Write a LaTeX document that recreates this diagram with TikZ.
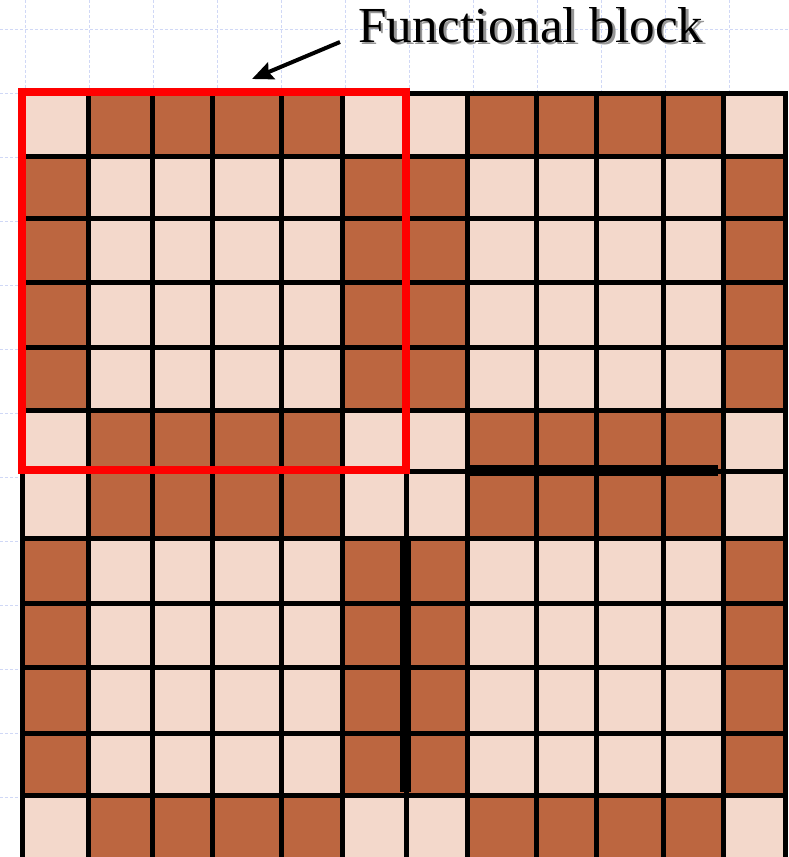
\documentclass[tikz,border=0pt]{standalone}
\usepackage{fontspec}
\setmainfont{Liberation Serif}
\usetikzlibrary{arrows.meta}
\definecolor{darkc}{RGB}{188,102,64}
\definecolor{lightc}{RGB}{243,216,203}
\definecolor{bggrid}{RGB}{208,216,246}
\definecolor{shadowc}{RGB}{150,150,150}
\tikzset{
  bgline/.style={draw=bggrid, line width=1pt, dash pattern=on 3pt off 2pt},
  cellline/.style={draw=black, line width=5pt},
  thickbar/.style={draw=black, line width=11pt},
  redframe/.style={draw=red, line width=8pt},
  titletext/.style={inner sep=0pt, anchor=base west, font=\rmfamily},
  pointer/.style={draw=black, line width=4pt, -{Stealth[length=21pt,width=18pt,inset=3pt]}}
}
\newcommand{\titlebox}{\resizebox{345pt}{35pt}{Functional block}}
\begin{document}
\begin{tikzpicture}[x=1pt,y=-1pt]
\useasboundingbox (0,0) rectangle (789,857);
\fill[white] (0,0) rectangle (789,857);
% background grid
\foreach \k in {0,...,12} {
  \draw[bgline] ({25+64*\k},0) -- ({25+64*\k},857);
  \draw[bgline] (0,{29+64*\k}) -- (789,{29+64*\k});
}
% cells
\foreach \i in {0,...,11} {
  \foreach \j in {0,...,11} {
    \pgfmathsetmacro\xa{{22,88,152,212,281,342,406,467,536,596,663,723,785}[\i]}
    \pgfmathsetmacro\xb{{22,88,152,212,281,342,406,467,536,596,663,723,785}[\i+1]}
    \pgfmathsetmacro\ya{{93,156,218,282,347,410,471,538,603,667,733,795,860}[\j]}
    \pgfmathsetmacro\yb{{93,156,218,282,347,410,471,538,603,667,733,795,860}[\j+1]}
    \pgfmathtruncatemacro\rr{mod(\j,6)}
    \pgfmathtruncatemacro\cc{mod(\i,6)}
    \pgfmathtruncatemacro\ee{or(or(\rr==0,\rr==5),or(\cc==0,\cc==5))}
    \pgfmathtruncatemacro\kk{and(or(\rr==0,\rr==5),or(\cc==0,\cc==5))}
    \pgfmathtruncatemacro\dk{\ee-\kk}
    \ifnum\dk=1 \def\col{darkc}\else\def\col{lightc}\fi
    \fill[\col] (\xa,\ya) rectangle (\xb,\yb);
  }
}
% cell borders
\foreach \x in {22,88,152,212,281,342,406,467,536,596,663,723,785}
  \draw[cellline] (\x,91) -- (\x,860);
\foreach \y in {93,156,218,282,347,410,471,538,603,667,733,795}
  \draw[cellline] (20,\y) -- (787,\y);
% thick bars
\draw[thickbar] (467,470) -- (718,470);
\draw[thickbar] (405,540) -- (405,792);
% functional block frame
\draw[redframe] (22,92) rectangle (406,470);
% title with shadow
\node[titletext] (title) at (358,42)
  {\makebox[0pt][l]{\hspace{2.5pt}\raisebox{-2.5pt}{\textcolor{shadowc}{\titlebox}}}\titlebox};
% arrow
\coordinate (arrowtail) at (340,42);
\coordinate (arrowtip) at (252,79);
\draw[pointer] (arrowtail) -- (arrowtip);
\end{tikzpicture}
\end{document}
